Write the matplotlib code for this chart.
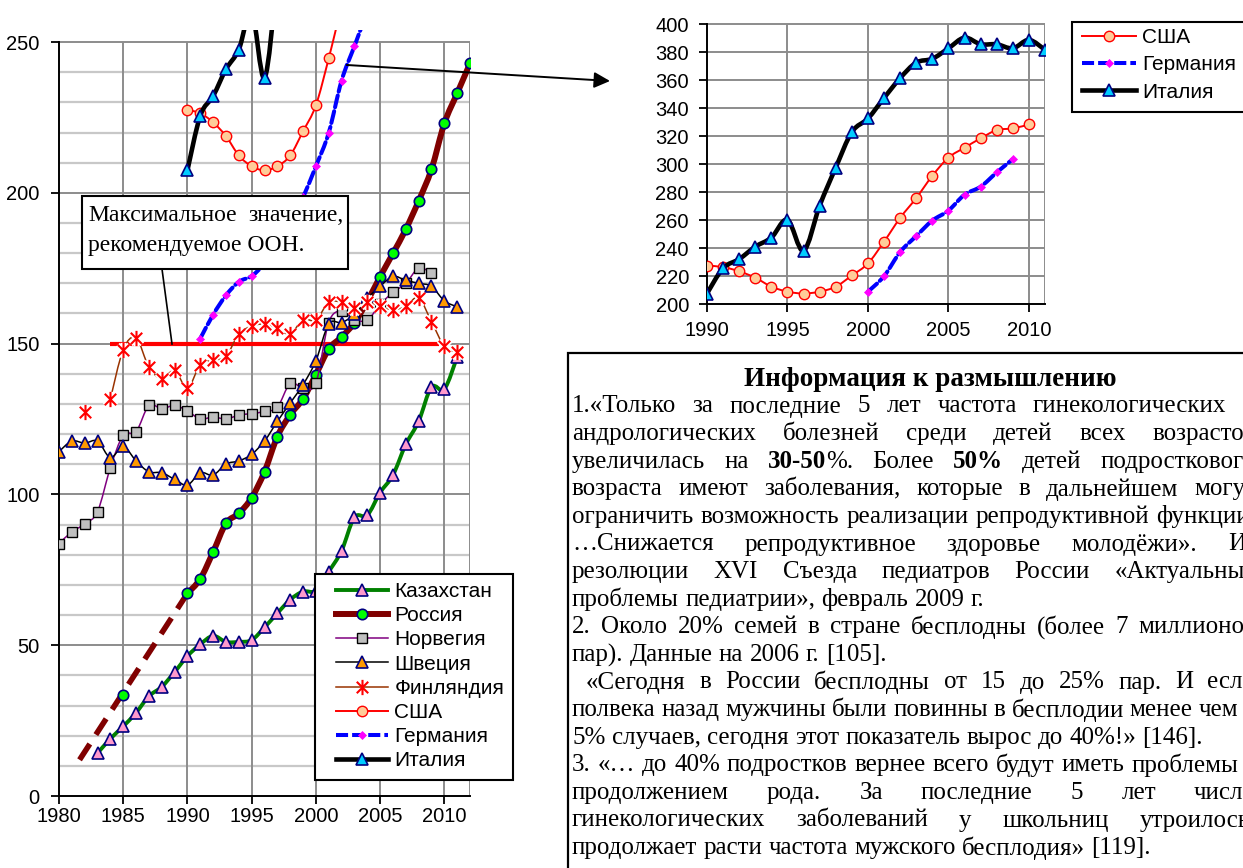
import numpy as np
import matplotlib
matplotlib.use("Agg")
import matplotlib.pyplot as plt
from matplotlib.path import Path
from matplotlib.patches import PathPatch, Rectangle, ConnectionPatch
from matplotlib.lines import Line2D

# ---------------- data ----------------
kz_years = list(range(1983, 2012))
kz_vals = [14.2, 19.0, 23.1, 27.6, 33.1, 36.2, 41.1, 46.4,
           50.3, 53.1, 51.1, 51.1, 51.7,
           55.9, 60.6, 65.1, 67.8, 68.1,
           74.4, 81.3, 92.4, 93.1, 100.6,
           106.4, 116.6, 124.2, 135.6, 134.9, 145.6]

ru_years = [1985] + list(range(1990, 2013))
ru_vals = [33.4, 67.2, 72.0, 80.9, 90.4, 93.7, 98.9, 107.5, 119.2, 126.4, 131.7,
           139.7, 148.2, 152.2, 156.9, 164.0, 172.2, 179.9, 187.9, 197.3, 207.8,
           223.0, 233.0, 242.9]
ru_trend_years = [1981.6, 1990]
ru_trend_vals = [12.0, 67.2]

no_years = list(range(1980, 2010))
no_vals = [83.7, 87.6, 90.2, 94.3, 108.9, 119.6, 120.8, 129.5, 128.4, 129.5,
           127.7, 125.0, 125.7, 125.0, 126.3, 126.8, 127.5, 128.9, 136.8, 135.3,
           137.0, 157.0, 160.8, 158.0, 157.8, 163.0, 167.0, 170.0, 175.0, 173.5]

se_years = list(range(1980, 2012))
se_vals = [114.2, 117.7, 117.0, 117.7, 112.2, 115.9, 111.1, 107.5, 107.2, 105.0,
           103.1, 107.2, 106.4, 110.1, 111.1, 113.3, 117.7, 124.2, 130.3, 136.4,
           144.3, 156.5, 157.0, 159.7, 165.0, 169.0, 172.3, 171.0, 170.0, 169.0,
           164.2, 162.2]

fi_years = [1982] + list(range(1984, 2012))
fi_vals = [127.3, 131.6, 148.0, 151.9, 142.2, 138.4, 141.1, 135.3, 143.0, 144.5,
           145.8, 153.2, 155.8, 156.5, 155.1, 153.2, 158.0, 157.8, 163.7, 163.7,
           161.9, 163.7, 162.4, 161.2, 162.4, 165.2, 157.3, 149.2, 147.2]

us_years = list(range(1990, 2011))
us_vals = [227.5, 226.4, 223.4, 218.8, 212.4, 208.8, 207.5, 208.8, 212.4, 220.4,
           229.0, 244.6, 261.6, 275.8, 291.7, 304.7, 311.8, 318.5, 324.4, 325.6,
           328.4]

de_years = list(range(1991, 2010))
de_vals = [151.7, 159.6, 166.0, 170.5, 172.4, 176.5, 182.0, 189.5, 198.5,
           208.8, 219.9, 237.2, 248.6, 259.7, 266.8, 278.2, 283.9, 294.1, 303.6]

it_years = list(range(1990, 2012))
it_vals = [207.5, 225.6, 232.1, 241.0, 247.5, 260.2, 238.1, 270.4, 297.6, 323.0,
           332.7, 347.4, 361.6, 372.7, 375.4, 382.9, 390.5, 385.8, 385.8, 382.9,
           388.9, 381.8]

un_limit = 150
un_years = [1984, 2009.6]

names = ['Казахстан', 'Россия', 'Норвегия', 'Швеция', 'Финляндия', 'США', 'Германия', 'Италия']
inset_names = ['США', 'Германия', 'Италия']

# ---------------- styles ----------------
# excel-like asterisk: vertical bar plus an X
ASTER = Path([(0, -1), (0, 1), (-0.75, -0.75), (0.75, 0.75), (-0.75, 0.75), (0.75, -0.75)],
             [Path.MOVETO, Path.LINETO] * 3)
STY = {
    'Казахстан': dict(color='#008000', lw=2.8, ls='-', marker='^', ms=8.5, mfc='#ff99cc', mec='#000080', mew=1.2),
    'Россия':    dict(color='#800000', lw=4.3, ls='-', marker='o', ms=7.5, mfc='#00ff00', mec='#000080', mew=1.2),
    'Норвегия':  dict(color='#800080', lw=1.1, ls='-', marker='s', ms=7.5, mfc='#c0c0c0', mec='#000000', mew=1.0),
    'Швеция':    dict(color='#000000', lw=1.1, ls='-', marker='^', ms=8.5, mfc='#ff9900', mec='#000080', mew=1.2),
    'Финляндия': dict(color='#993300', lw=1.1, ls='-', marker=ASTER, ms=11, mfc='#ff0000', mec='#ff0000', mew=1.5,
                      halo=True),
    'США':       dict(color='#ff0000', lw=1.4, ls='-', marker='o', ms=7.5, mfc='#ffcc99', mec='#ff0000', mew=1.0),
    'Германия':  dict(color='#0000ff', lw=2.9, ls=(0, (3, 1)), marker='D', ms=4.5, mfc='#ff00ff', mec='#ff00ff', mew=0.5),
    'Италия':    dict(color='#000000', lw=3.3, ls='-', marker='^', ms=8.5, mfc='#00ccff', mec='#000080', mew=1.2),
}

W, H = 1243, 868
fig = plt.figure(figsize=(W / 100, H / 100), dpi=100)
SANS = ['Liberation Sans', 'DejaVu Sans']
SERIF = ['Liberation Serif', 'DejaVu Serif']
plt.rcParams['font.family'] = SANS


def fx(x):
    return x / W


def fy(y):
    return 1 - y / H


def smooth_path(xs, ys):
    pts = np.column_stack([xs, ys])
    n = len(pts)
    verts, codes = [pts[0]], [Path.MOVETO]
    for i in range(n - 1):
        p0 = pts[i - 1] if i > 0 else pts[i]
        p1, p2 = pts[i], pts[i + 1]
        p3 = pts[i + 2] if i + 2 < n else pts[i + 1]
        verts += [p1 + (p2 - p0) / 6, p2 - (p3 - p1) / 6, p2]
        codes += [Path.CURVE4] * 3
    return Path(verts, codes)


def draw_series(ax, xs, ys, name, z):
    s = STY[name]
    xs = np.asarray(xs, float)
    ys = np.asarray(ys, float)
    breaks = np.where(np.diff(xs) > 1.01)[0] + 1
    for sx, sy in zip(np.split(xs, breaks), np.split(ys, breaks)):
        if len(sx) < 2:
            continue
        ax.add_patch(PathPatch(smooth_path(sx, sy), fill=False, edgecolor=s['color'], lw=s['lw'],
                               linestyle=s['ls'], zorder=z, capstyle='round', joinstyle='round'))
    if s.get('halo'):
        ax.plot(xs, ys, linestyle='none', marker=s['marker'], ms=s['ms'], mec='white',
                mew=s['mew'] + 2.5, zorder=z + 0.4)
    ax.plot(xs, ys, linestyle='none', marker=s['marker'], ms=s['ms'], mfc=s['mfc'],
            mec=s['mec'], mew=s['mew'], zorder=z + 0.5)


def proxy(name):
    s = STY[name]
    return Line2D([], [], color=s['color'], lw=s['lw'], ls=s['ls'], marker=s['marker'], ms=s['ms'],
                  mfc=s['mfc'], mec=s['mec'], mew=s['mew'])


def style_axes(ax, x0, x1, y0, y1, xt, yt, minor=None, xpad=2, ypad=8):
    ax.set_xlim(x0, x1)
    if minor:
        ax.hlines(minor, x0, x1, colors='#c8c8c8', lw=1.6, zorder=0.5)
    ax.hlines([v for v in yt if v > y0], x0, x1, colors='#8c8c8c', lw=1.4, zorder=0.6)
    ax.vlines([v for v in xt if v > x0] + [x1], y0, yt[-1], colors='#8c8c8c', lw=1.4, zorder=0.6)
    ax.set_xticks(xt)
    ax.set_yticks(yt)
    for sp in ('top', 'right'):
        ax.spines[sp].set_visible(False)
    ax.spines['left'].set_bounds(y0, yt[-1])
    for sp in ('left', 'bottom'):
        ax.spines[sp].set_linewidth(1.4)
        ax.spines[sp].set_zorder(0.7)
    ax.tick_params(direction='out', length=6, width=1.3, labelsize=14.5)
    ax.tick_params(axis='x', pad=xpad)
    ax.tick_params(axis='y', pad=ypad)
    ax.set_facecolor('none')


# ---------------- main chart ----------------
ax = fig.add_axes([fx(59), fy(796), (470 - 59) / W, (796 - 30) / H])
ax.set_ylim(0, 254)
style_axes(ax, 1980, 2012, 0, 250, list(range(1980, 2011, 5)), list(range(0, 251, 50)),
           minor=[v for v in range(10, 250, 10) if v % 50])

ax.plot(un_years, [un_limit, un_limit], color='#ff0000', lw=3.0, zorder=1.9, solid_capstyle='butt')
ax.plot(ru_trend_years, ru_trend_vals, color='#800000', lw=4.0, ls=(0, (3.4, 2.0)), zorder=2.9,
        dash_capstyle='butt')

series = [(kz_years, kz_vals), (ru_years, ru_vals), (no_years, no_vals), (se_years, se_vals),
          (fi_years, fi_vals), (us_years, us_vals), (de_years, de_vals), (it_years, it_vals)]
for i, (name, (xs, ys)) in enumerate(zip(names, series)):
    draw_series(ax, xs, ys, name, 2 + i)

# UN annotation box
fig.add_artist(Rectangle((fx(82), fy(269)), (348 - 82) / W, (269 - 196) / H, transform=fig.transFigure,
                         facecolor='white', edgecolor='black', lw=1.5, zorder=2))
fig.text(fx(88), fy(213), 'Максимальное', family=SERIF, fontsize=17, va='center_baseline', ha='left', zorder=3)
fig.text(fx(344), fy(213), 'значение,', family=SERIF, fontsize=17, va='center_baseline', ha='right', zorder=3)
fig.text(fx(88), fy(243), 'рекомендуемое ООН.', family=SERIF, fontsize=17, va='center_baseline', ha='left', zorder=3)
fig.add_artist(Line2D([fx(162), fx(172)], [fy(269), fy(344)], transform=fig.transFigure, color='black', lw=1.2, zorder=2))

# main legend
fig.add_artist(Rectangle((fx(315), fy(780)), (513 - 315) / W, (780 - 574) / H, transform=fig.transFigure,
                         facecolor='white', edgecolor='black', lw=1.5, zorder=4))
fig.legend([proxy(n) for n in names], names, loc='upper left', bbox_to_anchor=(fx(336), fy(582)),
           frameon=False, fontsize=15, handlelength=2.5, handletextpad=0.3, labelspacing=0.25,
           borderpad=0, borderaxespad=0)

# arrow to inset
con = ConnectionPatch(xyA=(2002.4, 242.4), coordsA=ax.transData, xyB=(fx(610), fy(81)),
                      coordsB=fig.transFigure, arrowstyle='-|>', mutation_scale=24, lw=1.4, color='black')
fig.add_artist(con)

# ---------------- inset chart ----------------
ax2 = fig.add_axes([fx(707), fy(304), (1045 - 707) / W, (304 - 23) / H])
ax2.set_ylim(200, 401)
style_axes(ax2, 1990, 2011, 200, 400, list(range(1990, 2011, 5)), list(range(200, 401, 20)),
           xpad=6, ypad=7)
inset_data = {
    'США': (us_years, us_vals),
    'Германия': ([x for x in de_years if x >= 2000], [v for x, v in zip(de_years, de_vals) if x >= 2000]),
    'Италия': (it_years, it_vals),
}
for i, name in enumerate(inset_names):
    draw_series(ax2, inset_data[name][0], inset_data[name][1], name, 2 + i)

fig.add_artist(Rectangle((fx(1072), fy(112)), (1280 - 1072) / W, (112 - 22) / H, transform=fig.transFigure,
                         facecolor='white', edgecolor='black', lw=1.5, zorder=4))
fig.legend([proxy(n) for n in inset_names], inset_names, loc='upper left', bbox_to_anchor=(fx(1082), fy(28)),
           frameon=False, fontsize=15, handlelength=2.6, handletextpad=0.3, labelspacing=0.4,
           borderpad=0, borderaxespad=0)

# ---------------- text box ----------------
fig.add_artist(Rectangle((fx(568), fy(900)), (1300 - 568) / W, (900 - 353) / H, transform=fig.transFigure,
                         facecolor='white', edgecolor='black', lw=1.6, zorder=1))
fig.text(fx(930), fy(376), 'Информация к размышлению', family=SERIF, fontsize=19.5, fontweight='bold',
         ha='center', va='center_baseline', zorder=3)

renderer = fig.canvas.get_renderer()
BODY = 18
X0, X1 = 572, 1256

lines = [
    ('1.«Только за последние 5 лет частота гинекологических и', True, 0),
    ('андрологических болезней среди детей всех возрастов', True, 0),
    ('увеличилась на **30-50**%. Более **50%** детей подросткового', True, 0),
    ('возраста имеют заболевания, которые в дальнейшем могут', True, 0),
    ('ограничить возможность реализации репродуктивной функции.', True, 0),
    ('…Снижается репродуктивное здоровье молодёжи». Из', True, 0),
    ('резолюции XVI Съезда педиатров России «Актуальные', True, 0),
    ('проблемы педиатрии», февраль 2009 г.', False, 0),
    ('2. Около 20% семей в стране бесплодны (более 7 миллионов', True, 0),
    ('пар). Данные на 2006 г. [105].', False, 0),
    ('«Сегодня в России бесплодны от 15 до 25% пар. И если', True, 14),
    ('полвека назад мужчины были повинны в бесплодии менее чем в', True, 0),
    ('5% случаев, сегодня этот показатель вырос до 40%!» [146].', False, 0),
    ('3. «… до 40% подростков вернее всего будут иметь проблемы с', True, 0),
    ('продолжением рода. За последние 5 лет число', True, 0),
    ('гинекологических заболеваний у школьниц утроилось,', True, 0),
    ('продолжает расти частота мужского бесплодия» [119].', False, 0),
]


def put_line(text, y, justify, indent):
    words = text.split(' ')
    arts, widths = [], []
    for w in words:
        bold = False
        segs = []
        for part in w.split('**'):
            if part:
                t = fig.text(0, fy(y), part, family=SERIF, fontsize=BODY, va='center_baseline', ha='left',
                             fontweight='bold' if bold else 'normal', zorder=3)
                segs.append((t, t.get_window_extent(renderer).width))
            bold = not bold
        arts.append(segs)
        widths.append(sum(wd for _, wd in segs))
    x0 = X0 + indent
    gap = BODY * 100 / 72 * 0.25
    if justify and len(words) > 1:
        gap = (X1 - x0 - sum(widths)) / (len(words) - 1)
    x = x0
    for segs, wt in zip(arts, widths):
        xx = x
        for t, wd in segs:
            t.set_x(fx(xx))
            xx += wd
        x += wt + gap


for k, (txt, just, ind) in enumerate(lines):
    put_line(txt, 404 + 27.6 * k, just, ind)

fig.savefig('out.png', dpi=100)
